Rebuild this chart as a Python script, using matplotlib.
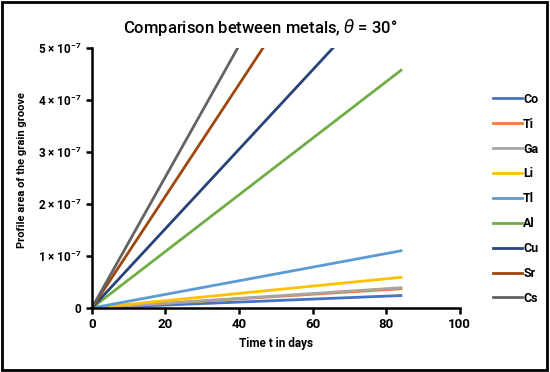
import numpy as np
import matplotlib.pyplot as plt
from matplotlib.patches import Rectangle

# time points (days) and profile area at end of run (x 1e-7)
t = [0, 84]
metals = ['Co', 'Ti', 'Ga', 'Li', 'Tl', 'Al', 'Cu', 'Sr', 'Cs']
end_vals = [0.24, 0.37, 0.39, 0.59, 1.10, 4.57, 6.41, 9.03, 10.6]
colors = ['#4472c4', '#ed7d31', '#a5a5a5', '#ffc000', '#5b9bd5',
          '#70ad47', '#264478', '#9e480e', '#636363']

y_ticks = [0, 1e-7, 2e-7, 3e-7, 4e-7, 5e-7]
y_labels = ['0', r'1 × 10$^{\mathbf{-7}}$', r'2 × 10$^{\mathbf{-7}}$',
            r'3 × 10$^{\mathbf{-7}}$', r'4 × 10$^{\mathbf{-7}}$',
            r'5 × 10$^{\mathbf{-7}}$']

plt.rcParams['font.family'] = ['Roboto', 'DejaVu Sans']
plt.rcParams['mathtext.fontset'] = 'custom'
plt.rcParams['mathtext.rm'] = 'Roboto'
plt.rcParams['mathtext.bf'] = 'Roboto:bold'
plt.rcParams['mathtext.it'] = 'DejaVu Sans:italic'

fig = plt.figure(figsize=(5.5, 3.72), dpi=100)
ax = fig.add_axes([0.167, 0.172, 0.669, 0.699])

for name, v, c in zip(metals, end_vals, colors):
    ax.plot(t, [0, v * 1e-7], color=c, lw=2, label=name)

ax.set_xlim(0, 100)
ax.set_ylim(0, 5e-7)
ax.set_xticks([0, 20, 40, 60, 80, 100])
ax.set_xticklabels(['0', '20', '40', '60', '80', '100'], fontweight='bold', fontsize=9.5)
ax.set_yticks(y_ticks)
ax.set_yticklabels(y_labels, fontsize=8.5, fontweight='bold')
ax.spines['top'].set_visible(False)
ax.spines['right'].set_visible(False)
ax.spines['left'].set_linewidth(1.8)
ax.spines['bottom'].set_linewidth(1.8)
ax.tick_params(width=1.8, length=4, direction='out')

ax.set_xlabel('Time t in days', fontweight='bold', fontsize=8.5)
ax.set_ylabel('Profile area of the grain groove', fontweight='bold', fontsize=8)
ax.yaxis.set_label_coords(-0.175, 0.53)
ax.set_title(r'Comparison between metals, $\theta$ = 30°',
             fontsize=12, fontweight='medium', pad=11, x=0.457)

leg = ax.legend(loc='center left', bbox_to_anchor=(1.06, 0.42), frameon=False,
                handlelength=2.3, labelspacing=0.95, handletextpad=0.1,
                prop={'weight': 'bold', 'size': 9})

fig.patches.append(Rectangle((0.004, 0.005), 0.99, 0.99, transform=fig.transFigure,
                             fill=False, edgecolor='black', lw=2))

fig.savefig('out.png', dpi=100)
